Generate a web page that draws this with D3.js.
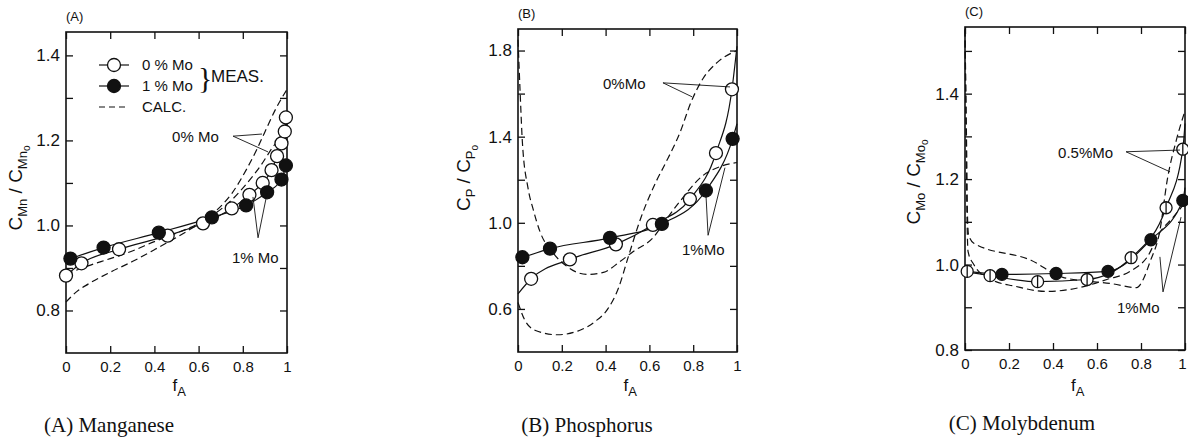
<!DOCTYPE html>
<html>
<head>
<meta charset="utf-8">
<script src="https://cdn.jsdelivr.net/npm/d3@7"></script>
<style>
  body { margin: 0; background: #fff; }
  svg { display: block; }
</style>
</head>
<body>
<svg id="plot" width="1188" height="443"></svg>
<script>
// ---- tick values ----
fTicks = [0, 0.2, 0.4, 0.6, 0.8, 1];
mnYTicks = [0.8, 0.9, 1.0, 1.1, 1.2, 1.3, 1.4];
mnYLabels = [0.8, 1.0, 1.2, 1.4];
pYTicks = [0.6, 0.8, 1.0, 1.2, 1.4, 1.6, 1.8];
pYLabels = [0.6, 1.0, 1.4, 1.8];
moYTicks = [0.8, 0.9, 1.0, 1.1, 1.2, 1.3, 1.4, 1.5];
moYLabels = [0.8, 1.0, 1.2, 1.4];

// ---- (A) manganese, [fA, C/C0] ----
mnOpen = [[0, 0.882], [0.07, 0.911], [0.24, 0.944], [0.46, 0.976], [0.62, 1.005],
          [0.75, 1.04], [0.83, 1.072], [0.89, 1.10], [0.93, 1.13], [0.955, 1.163],
          [0.975, 1.193], [0.99, 1.221], [0.995, 1.254]];
mnFilled = [[0.02, 0.922], [0.17, 0.948], [0.42, 0.983], [0.66, 1.019], [0.815, 1.047],
            [0.91, 1.078], [0.975, 1.108], [0.995, 1.141]];
mnCalc0 = [[0, 0.885], [0.1, 0.905], [0.2, 0.922], [0.3, 0.94], [0.4, 0.962], [0.5, 0.982],
           [0.6, 1.005], [0.68, 1.035], [0.75, 1.075], [0.82, 1.135], [0.86, 1.175],
           [0.9, 1.22], [0.95, 1.275], [1.0, 1.32]];
mnCalc1 = [[0, 0.82], [0.05, 0.845], [0.1, 0.862], [0.2, 0.89], [0.3, 0.915], [0.4, 0.943],
           [0.5, 0.972], [0.6, 1.003], [0.68, 1.03], [0.75, 1.06], [0.82, 1.1], [0.88, 1.14],
           [0.93, 1.18], [0.97, 1.21], [1.0, 1.24]];

// ---- (B) phosphorus ----
pOpen = [[0.06, 0.74], [0.237, 0.83], [0.447, 0.90], [0.616, 0.99], [0.785, 1.11],
         [0.904, 1.324], [0.977, 1.62]];
pOpenLine = [[0, 0.67]].concat(pOpen, [[1.0, 1.82]]);
pFilled = [[0.02, 0.84], [0.146, 0.88], [0.42, 0.93], [0.657, 0.995], [0.858, 1.15], [0.98, 1.39]];
pFilledLine = [[0, 0.835]].concat(pFilled, [[1.0, 1.46]]);
pCalc0 = [[0, 0.63], [0.03, 0.55], [0.08, 0.5], [0.18, 0.48], [0.28, 0.5], [0.35, 0.54],
          [0.41, 0.6], [0.46, 0.7], [0.5, 0.83], [0.56, 1.02], [0.63, 1.19], [0.67, 1.27],
          [0.74, 1.42], [0.79, 1.56], [0.845, 1.67], [0.91, 1.745], [1.0, 1.80]];
pCalc1 = [[0, 1.85], [0.01, 1.6], [0.02, 1.375], [0.046, 1.16], [0.07, 1.06], [0.1, 0.96],
          [0.16, 0.86], [0.22, 0.8], [0.315, 0.76], [0.39, 0.77], [0.466, 0.82], [0.525, 0.866],
          [0.616, 0.93], [0.68, 1.02], [0.74, 1.1], [0.845, 1.22], [0.92, 1.26], [1.0, 1.28]];

// ---- (C) molybdenum ----
moHalf = [[0.01, 0.984], [0.114, 0.974], [0.33, 0.96], [0.555, 0.965], [0.755, 1.016],
          [0.914, 1.133], [0.99, 1.27]];
moHalfLine = [[0, 0.984]].concat(moHalf.slice(1), [[1.0, 1.33]]);
moFilled = [[0.168, 0.977], [0.414, 0.979], [0.65, 0.984], [0.845, 1.058], [0.99, 1.15]];
moFilledLine = [[0, 0.985]].concat(moFilled, [[1.0, 1.18]]);
moCalc05 = [[0, 1.55], [0.004, 1.4], [0.008, 1.25], [0.011, 1.12], [0.016, 1.07], [0.04, 1.05],
            [0.3, 1.01], [0.445, 0.97], [0.67, 0.955], [0.78, 0.946], [0.81, 0.965],
            [0.84, 1.005], [0.886, 1.08], [0.92, 1.2], [0.96, 1.29], [1.0, 1.36]];
moCalc1 = [[0, 1.55], [0.004, 1.35], [0.008, 1.15], [0.014, 1.03], [0.04, 1.0], [0.07, 0.98],
           [0.14, 0.96], [0.22, 0.95], [0.37, 0.937], [0.52, 0.946], [0.645, 0.965],
           [0.75, 0.984], [0.83, 1.019], [0.886, 1.075], [0.945, 1.11], [1.0, 1.145]];

// ---- annotations: label position, leader start, leader targets (data units) ----
mnNote0 = {text: "0% Mo", at: [0.48, 1.196], from: [0.756, 1.21], to: [[0.887, 1.215], [0.914, 1.173]]};
mnNote1 = {text: "1% Mo", at: [0.751, 0.912], from: [0.869, 0.971], to: [[0.846, 1.067], [0.91, 1.076]]};
pNote0 = {text: "0%Mo", at: [0.388, 1.622], from: [0.662, 1.65], to: [[0.968, 1.631], [0.795, 1.585]]};
pNote1 = {text: "1%Mo", at: [0.749, 0.849], from: [0.868, 0.942], to: [[0.858, 1.136], [0.945, 1.256]]};
moNote05 = {text: "0.5%Mo", at: [0.423, 1.25], from: [0.732, 1.264], to: [[0.977, 1.268], [0.932, 1.217]]};
moNote1 = {text: "1%Mo", at: [0.691, 0.887], from: [0.9, 0.936], to: [[0.886, 1.018], [0.982, 1.111]]};

sans = "'Liberation Sans', Arial, sans-serif";
serif = "'Liberation Serif', 'DejaVu Serif', serif";

const svg = d3.select("#plot");

function yTitle(g, x, y, sub) {
    const t = g.append("text")
        .attr("transform", `translate(${x},${y}) rotate(-90)`)
        .attr("text-anchor", "middle")
        .attr("font-family", sans)
        .attr("font-size", 19)
        .attr("fill", "#111");
    t.append("tspan").text("C");
    t.append("tspan").attr("dy", 5).attr("font-size", 13).text(sub);
    t.append("tspan").attr("dy", -5).text(" / C");
    t.append("tspan").attr("dy", 5).attr("font-size", 13).text(sub);
    t.append("tspan").attr("dy", 3).attr("font-size", 10).text("o");
}

function drawPanel(p) {
    const x = d3.scaleLinear().domain([0, 1]).range([p.box[0], p.box[2]]);
    const y = d3.scaleLinear().domain(p.yDomain).range([p.box[3], p.box[1]]);
    const g = svg.append("g");
    const line = d3.line().x(d => x(d[0])).y(d => y(d[1])).curve(d3.curveMonotoneX);

    // axes, ticks pointing inward
    const fmtX = d => d === 0 || d === 1 ? String(d) : d.toFixed(1);
    const fmtY = d => p.yLabels.some(v => Math.abs(v - d) < 1e-9) ? d.toFixed(1) : "";
    const ax = [
        [d3.axisBottom(x).tickValues(fTicks).tickFormat(fmtX).tickPadding(8), p.box[3], "x"],
        [d3.axisTop(x).tickValues(fTicks).tickFormat(""), p.box[1], "x"],
        [d3.axisLeft(y).tickValues(p.yTicks).tickFormat(fmtY).tickPadding(6), p.box[0], "y"],
        [d3.axisRight(y).tickValues(p.yTicks).tickFormat(""), p.box[2], "y"]
    ];
    ax.forEach(([a, pos, kind]) => {
        const ag = g.append("g")
            .attr("transform", kind === "x" ? `translate(0,${pos})` : `translate(${pos},0)`)
            .call(a.tickSizeInner(-7).tickSizeOuter(0));
        ag.select(".domain").remove();
        ag.selectAll("line").attr("stroke", "#111").attr("stroke-width", 1.3);
        ag.selectAll("text").attr("font-family", sans).attr("fill", "#111")
            .attr("font-size", kind === "x" ? 15 : 17);
        if (kind === "x" && p.lastDx) {
            ag.selectAll("text").filter(d => d === 1).attr("dx", p.lastDx);
        }
    });

    g.append("rect")
        .attr("x", p.box[0]).attr("y", p.box[1])
        .attr("width", p.box[2] - p.box[0]).attr("height", p.box[3] - p.box[1])
        .attr("fill", "none").attr("stroke", "#111").attr("stroke-width", 1.6);

    // calculated curves
    p.calc.forEach(c => {
        g.append("path").attr("d", line(c))
            .attr("fill", "none").attr("stroke", "#111")
            .attr("stroke-width", 1.2).attr("stroke-dasharray", "7,4");
    });
    // measured lines
    p.meas.forEach(m => {
        g.append("path").attr("d", line(m.line))
            .attr("fill", "none").attr("stroke", "#111").attr("stroke-width", 1.2);
    });
    // markers
    p.meas.forEach(m => {
        const mk = g.append("g").selectAll("g").data(m.pts).join("g")
            .attr("transform", d => `translate(${x(d[0])},${y(d[1])})`);
        mk.append("circle").attr("r", p.r)
            .attr("fill", m.kind === "filled" ? "#111" : "#fff")
            .attr("stroke", "#111").attr("stroke-width", 1.3);
        if (m.kind === "half") {
            mk.append("line").attr("y1", -p.r).attr("y2", p.r)
                .attr("stroke", "#111").attr("stroke-width", 1.3);
        }
    });

    // annotations
    p.notes.forEach(n => {
        g.append("text").text(n.text)
            .attr("x", x(n.at[0])).attr("y", y(n.at[1]))
            .attr("font-family", sans).attr("font-size", 15).attr("fill", "#111");
        n.to.forEach(t => {
            g.append("line")
                .attr("x1", x(n.from[0])).attr("y1", y(n.from[1]))
                .attr("x2", x(t[0])).attr("y2", y(t[1]))
                .attr("stroke", "#111").attr("stroke-width", 0.9);
        });
    });

    // titles
    g.append("text").text(p.tag)
        .attr("x", p.box[0]).attr("y", p.box[1] - 11)
        .attr("font-family", sans).attr("font-size", 13).attr("fill", "#111");
    yTitle(g, p.titleX, p.titleY, p.sub);
    const fa = g.append("text")
        .attr("x", (p.box[0] + p.box[2]) / 2 - 4).attr("y", 391)
        .attr("font-family", sans).attr("font-size", 17).attr("fill", "#111");
    fa.append("tspan").text("f");
    fa.append("tspan").attr("dy", 5).attr("font-size", 13).text("A");
    g.append("text").text(p.caption)
        .attr("x", p.capX).attr("y", p.capY)
        .attr("text-anchor", "middle")
        .attr("font-family", serif).attr("font-size", 21).attr("fill", "#111");
    return {x, y, g};
}

const a = drawPanel({
    tag: "(A)", sub: "Mn", caption: "(A)  Manganese", capX: 109, capY: 432,
    box: [66, 32, 287, 353], yDomain: [0.7, 1.455], yTicks: mnYTicks, yLabels: mnYLabels,
    titleX: 22, titleY: 188, r: 6.5,
    calc: [mnCalc0, mnCalc1],
    meas: [{kind: "open", pts: mnOpen, line: mnOpen}, {kind: "filled", pts: mnFilled, line: mnFilled}],
    notes: [mnNote0, mnNote1]
});
drawPanel({
    tag: "(B)", sub: "P", caption: "(B)  Phosphorus", capX: 587, capY: 432,
    box: [518, 29, 737, 352], yDomain: [0.4, 1.9], yTicks: pYTicks, yLabels: pYLabels,
    titleX: 470, titleY: 178, r: 6.5,
    calc: [pCalc0, pCalc1],
    meas: [{kind: "open", pts: pOpen, line: pOpenLine}, {kind: "filled", pts: pFilled, line: pFilledLine}],
    notes: [pNote0, pNote1]
});
drawPanel({
    tag: "(C)", sub: "Mo", caption: "(C)  Molybdenum", capX: 1022, capY: 430,
    box: [965, 27, 1185, 350], yDomain: [0.8, 1.556], yTicks: moYTicks, yLabels: moYLabels,
    titleX: 920, titleY: 182, r: 6, lastDx: -3,
    calc: [moCalc05, moCalc1],
    meas: [{kind: "half", pts: moHalf, line: moHalfLine}, {kind: "filled", pts: moFilled, line: moFilledLine}],
    notes: [moNote05, moNote1]
});

// legend inside panel (A)
const lg = a.g.append("g").attr("font-family", sans).attr("fill", "#111");
legendRows = [
    {kind: "open", text: "0 % Mo"},
    {kind: "filled", text: "1 % Mo"},
    {kind: "calc", text: "CALC."}
];
legendRows.forEach((row, i) => {
    const yy = 65 + i * 21;
    lg.append("line").attr("x1", 99).attr("x2", 129).attr("y1", yy).attr("y2", yy)
        .attr("stroke", "#111").attr("stroke-width", 1.2)
        .attr("stroke-dasharray", row.kind === "calc" ? "6,4" : null);
    if (row.kind !== "calc") {
        lg.append("circle").attr("cx", 114).attr("cy", yy).attr("r", 6.5)
            .attr("fill", row.kind === "filled" ? "#111" : "#fff")
            .attr("stroke", "#111").attr("stroke-width", 1.3);
    }
    lg.append("text").text(row.text).attr("x", 142).attr("y", yy + 5).attr("font-size", 15);
});
lg.append("text").text("}").attr("x", 198).attr("y", 88).attr("font-size", 30)
    .attr("font-family", serif).attr("font-weight", 100);
lg.append("text").text("MEAS.").attr("x", 211).attr("y", 82).attr("font-size", 17);
</script>
</body>
</html>
